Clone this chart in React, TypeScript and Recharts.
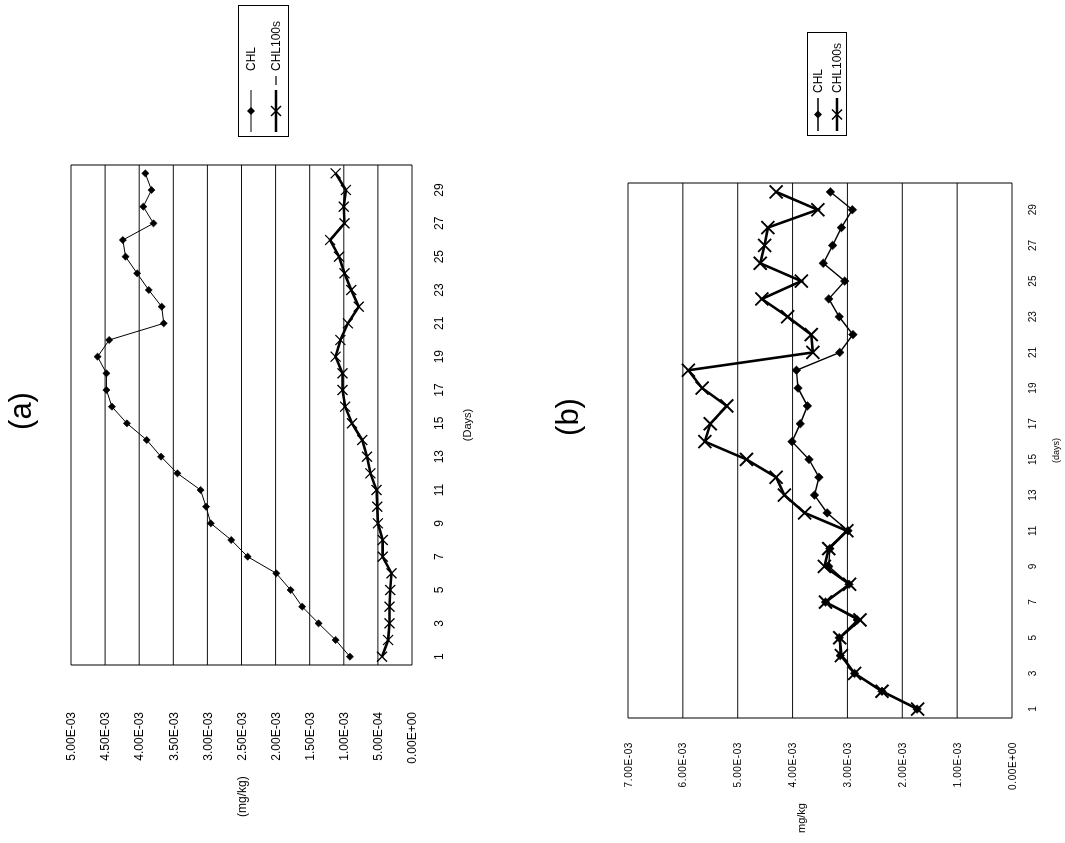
import { LineChart, Line, XAxis, YAxis, CartesianGrid, ReferenceLine, Legend } from "recharts";

// the scanned page is turned 90deg, so the page is drawn upright and rotated as a whole
const FONT = '"Liberation Sans", Arial, sans-serif';

const days = [1, 2, 3, 4, 5, 6, 7, 8, 9, 10, 11, 12, 13, 14, 15, 16, 17, 18, 19, 20, 21, 22, 23, 24, 25, 26, 27, 28, 29, 30];
const dayLabels = [1, 3, 5, 7, 9, 11, 13, 15, 17, 19, 21, 23, 25, 27, 29];

// values in 1e-3 mg/kg
const chlA = [0.91, 1.12, 1.37, 1.61, 1.78, 1.99, 2.41, 2.65, 2.95, 3.02, 3.1, 3.44, 3.68, 3.89, 4.18, 4.4, 4.48, 4.48, 4.61, 4.44, 3.64, 3.67, 3.86, 4.03, 4.2, 4.24, 3.79, 3.94, 3.82, 3.91];
const chl100sA = [0.44, 0.35, 0.33, 0.33, 0.32, 0.3, 0.43, 0.43, 0.5, 0.51, 0.52, 0.61, 0.66, 0.73, 0.88, 0.98, 1.02, 1.02, 1.12, 1.05, 0.94, 0.78, 0.89, 0.99, 1.07, 1.2, 0.99, 1.0, 0.97, 1.12];
const chlB = [1.73, 2.37, 2.87, 3.13, 3.15, 2.82, 3.4, 2.97, 3.34, 3.32, 2.99, 3.37, 3.6, 3.52, 3.7, 4.01, 3.86, 3.73, 3.9, 3.93, 3.14, 2.9, 3.15, 3.34, 3.05, 3.44, 3.27, 3.11, 2.91, 3.31];
const chl100sB = [1.72, 2.37, 2.87, 3.11, 3.14, 2.77, 3.4, 2.96, 3.42, 3.34, 3.01, 3.78, 4.15, 4.3, 4.84, 5.6, 5.5, 5.2, 5.65, 5.9, 3.63, 3.66, 4.09, 4.56, 3.84, 4.59, 4.51, 4.45, 3.54, 4.3];

const ticksA = [0, 0.0005, 0.001, 0.0015, 0.002, 0.0025, 0.003, 0.0035, 0.004, 0.0045, 0.005];
const ticksB = [0, 0.001, 0.002, 0.003, 0.004, 0.005, 0.006, 0.007];

const rowsA = days.map((day, i) => ({ day, chl: chlA[i] / 1000, chl100s: chl100sA[i] / 1000 }));
const rowsB = days.map((day, i) => ({ day, chl: chlB[i] / 1000, chl100s: chl100sB[i] / 1000 }));

// tick marks sit between the days, like Excel's category axis
const dayEdges = [...days.map((d) => d - 0.5), days[days.length - 1] + 0.5];
const dayDomain = [dayEdges[0], dayEdges[dayEdges.length - 1]];

const sci = (v: number) => {
  if (v === 0) return "0.00E+00";
  const [m, e] = v.toExponential(2).split("e");
  const n = parseInt(e, 10);
  return `${m}E${n < 0 ? "-" : "+"}${String(Math.abs(n)).padStart(2, "0")}`;
};

const diamond = (s: number) => (p: any) => {
  const { cx, cy, index } = p;
  if (cx == null || cy == null) return <g key={index} />;
  return <path key={index} d={`M${cx},${cy - s}L${cx + s},${cy}L${cx},${cy + s}L${cx - s},${cy}Z`} fill="#000" stroke="#000" strokeWidth={0.6} />;
};

const cross = (s: number, w: number) => (p: any) => {
  const { cx, cy, index } = p;
  if (cx == null || cy == null) return <g key={index} />;
  return <path key={index} d={`M${cx - s},${cy - s}L${cx + s},${cy + s}M${cx - s},${cy + s}L${cx + s},${cy - s}`} stroke="#000" strokeWidth={w} fill="none" />;
};

function LegendBox({ width, height, symW, lineW, thin, thick, dash }: { width: number; height: number; symW: number; lineW: number; thin: number; thick: number; dash?: boolean }) {
  const mid = lineW / 2;
  return (
    <div style={{ width, height, boxSizing: "border-box", border: "1.5px solid #000", background: "#fff", display: "flex", flexDirection: "column", justifyContent: "space-around", padding: "0 4px", fontSize: 12, fontFamily: FONT, color: "#000" }}>
      <div style={{ display: "flex", alignItems: "center", gap: 5 }}>
        <svg width={symW} height={14}>
          <line x1={0} y1={7} x2={lineW} y2={7} stroke="#000" strokeWidth={thin} />
          <path d={`M${mid},3L${mid + 4},7L${mid},11L${mid - 4},7Z`} fill="#000" />
        </svg>
        <span>CHL</span>
      </div>
      <div style={{ display: "flex", alignItems: "center", gap: 5 }}>
        <svg width={symW} height={14}>
          <line x1={0} y1={7} x2={lineW} y2={7} stroke="#000" strokeWidth={thick} />
          <path d={`M${mid - 5},2L${mid + 5},12M${mid - 5},12L${mid + 5},2`} stroke="#000" strokeWidth={1.5} />
          {dash && <line x1={lineW + 5} y1={7} x2={symW} y2={7} stroke="#000" strokeWidth={1.2} />}
        </svg>
        <span>CHL100s</span>
      </div>
    </div>
  );
}

const titleStyle = (u: number, v: number) => ({
  position: "absolute" as const,
  left: u,
  top: v,
  transform: "translate(-50%, -50%)",
  fontSize: 31,
  lineHeight: 1,
  fontFamily: FONT,
});

export default function App() {
  return (
    <>
      <style>{"html,body{margin:0;overflow:hidden;background:#fff}"}</style>
      <div
        style={{
          position: "fixed",
          left: 0,
          top: 0,
          width: 843,
          height: 1065,
          background: "#fff",
          fontFamily: FONT,
          transformOrigin: "0 0",
          transform: "translate(0px, 843px) rotate(-90deg)",
        }}
      >
        <div style={titleStyle(432, 20)}>(a)</div>
        <div style={{ position: "absolute", left: 0, top: 0 }}>
          <LineChart width={843} height={500} data={rowsA} margin={{ top: 71, right: 165, bottom: 0, left: 0 }}>
            <CartesianGrid xAxisId="edge" vertical={false} stroke="#111" />
            <XAxis xAxisId="edge" type="number" dataKey="day" domain={dayDomain} ticks={dayEdges} interval={0} tick={false} tickSize={5} height={0} stroke="#000" />
            <XAxis
              xAxisId="lab"
              type="number"
              dataKey="day"
              domain={dayDomain}
              ticks={dayLabels}
              interval={0}
              tickLine={false}
              axisLine={false}
              tickSize={0}
              tickMargin={22}
              height={88}
              tick={{ fontSize: 12, fill: "#000" }}
              label={{ value: "(Days)", position: "insideBottom", offset: 29, dx: -10, fontSize: 11, fill: "#000" }}
            />
            <YAxis
              type="number"
              domain={[0, 0.005]}
              ticks={ticksA}
              interval={0}
              tickFormatter={sci}
              width={178}
              tickLine={false}
              tickSize={0}
              tickMargin={47}
              stroke="#000"
              tick={{ fontSize: 12, fill: "#000" }}
              label={{ value: "(mg/kg)", position: "insideLeft", offset: 26, fontSize: 12, fill: "#000" }}
            />
            <ReferenceLine xAxisId="edge" x={dayDomain[1]} stroke="#000" ifOverflow="visible" />
            <Line xAxisId="edge" dataKey="chl" name="CHL" stroke="#000" strokeWidth={1} dot={diamond(3.6)} isAnimationActive={false} />
            <Line xAxisId="edge" dataKey="chl100s" name="CHL100s" stroke="#000" strokeWidth={2.6} dot={cross(5, 1.3)} isAnimationActive={false} />
            <Legend
              layout="horizontal"
              verticalAlign="middle"
              align="center"
              wrapperStyle={{ left: 706, top: 238, width: 132, height: 51 }}
              content={() => <LegendBox width={132} height={51} symW={56} lineW={42} thin={1} thick={2.4} dash />}
            />
          </LineChart>
        </div>

        <div style={titleStyle(426, 567)}>(b)</div>
        <div style={{ position: "absolute", left: 0, top: 560 }}>
          <LineChart width={843} height={505} data={rowsB} margin={{ top: 68, right: 183, bottom: 0, left: 0 }}>
            <CartesianGrid xAxisId="edge" vertical={false} stroke="#111" />
            <XAxis xAxisId="edge" type="number" dataKey="day" domain={dayDomain} ticks={dayEdges} interval={0} tick={false} tickSize={5} height={0} stroke="#000" />
            <XAxis
              xAxisId="lab"
              type="number"
              dataKey="day"
              domain={dayDomain}
              ticks={dayLabels}
              interval={0}
              tickLine={false}
              axisLine={false}
              tickSize={0}
              tickMargin={17}
              height={53}
              tick={{ fontSize: 10, fill: "#000" }}
              label={{ value: "(days)", position: "insideBottom", offset: 6, fontSize: 9, fill: "#000" }}
            />
            <YAxis
              type="number"
              domain={[0, 0.007]}
              ticks={ticksB}
              interval={0}
              tickFormatter={sci}
              width={125}
              tickLine={false}
              tickSize={0}
              tickMargin={24}
              stroke="#000"
              tick={{ fontSize: 10, fill: "#000", letterSpacing: 0.6 }}
              label={{ value: "mg/kg", position: "insideLeft", offset: 10, dy: -19, fontSize: 11, fill: "#000" }}
            />
            <ReferenceLine xAxisId="edge" x={dayDomain[1]} stroke="#000" ifOverflow="visible" />
            <Line xAxisId="edge" dataKey="chl" name="CHL" stroke="#000" strokeWidth={1.4} dot={diamond(4.3)} isAnimationActive={false} />
            <Line xAxisId="edge" dataKey="chl100s" name="CHL100s" stroke="#000" strokeWidth={2.6} dot={cross(6.5, 1.9)} isAnimationActive={false} />
            <Legend
              layout="horizontal"
              verticalAlign="middle"
              align="center"
              wrapperStyle={{ left: 707, top: 247, width: 104, height: 40 }}
              content={() => <LegendBox width={104} height={40} symW={33} lineW={33} thin={1.4} thick={2.4} />}
            />
          </LineChart>
        </div>
      </div>
    </>
  );
}
